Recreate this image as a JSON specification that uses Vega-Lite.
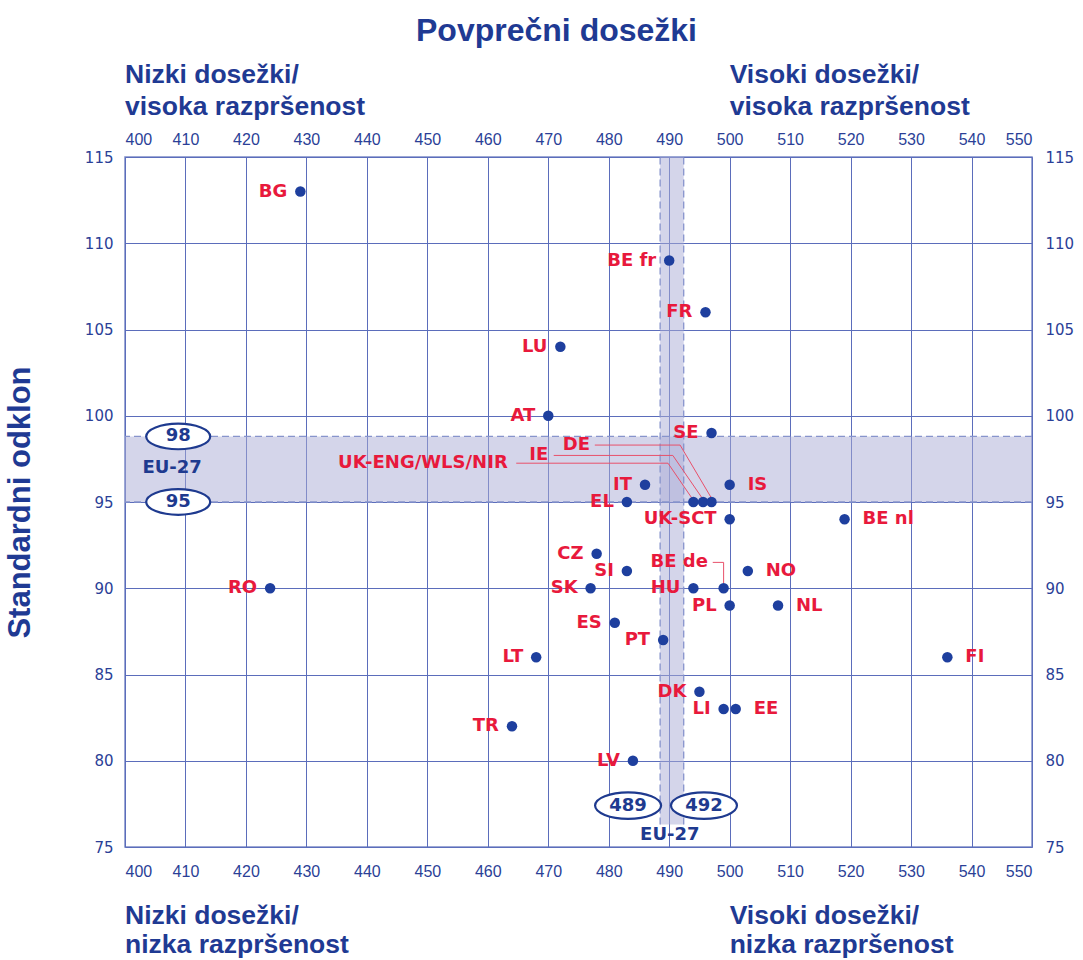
{
  "$schema": "https://vega.github.io/schema/vega-lite/v6.json",
  "width": 907,
  "height": 690,
  "autosize": "none",
  "padding": {"left": 125, "top": 157, "right": 51, "bottom": 113},
  "background": "white",
  "config": {
    "view": {"stroke": "#7d8cc8", "strokeWidth": 1.5},
    "axis": {"ticks": false, "domain": false, "gridColor": "#5b6dbb", "gridWidth": 1, "gridOpacity": 1, "labelColor": "#2b3f97"},
    "axisX": {"labelFont": "Liberation Sans", "labelFontSize": 16},
    "axisY": {"labelFont": "DejaVu Sans", "labelFontSize": 15}
  },
  "title": {
    "text": "Povprečni dosežki",
    "font": "Liberation Sans",
    "fontSize": 32,
    "fontWeight": "bold",
    "color": "#1f3a93",
    "frame": "group",
    "anchor": "middle",
    "dx": -22,
    "offset": 14
  },
  "datasets": {
    "countries": [
      {"c": "BG", "x": 429, "y": 113, "side": "L"},
      {"c": "BE fr", "x": 490, "y": 109, "side": "L"},
      {"c": "FR", "x": 496, "y": 106, "side": "L"},
      {"c": "LU", "x": 472, "y": 104, "side": "L"},
      {"c": "AT", "x": 470, "y": 100, "side": "L"},
      {"c": "SE", "x": 497, "y": 99, "side": "L"},
      {"c": "IS", "x": 500, "y": 96, "side": "R"},
      {"c": "IT", "x": 486, "y": 96, "side": "L"},
      {"c": "EL", "x": 483, "y": 95, "side": "L"},
      {"c": "UK-ENG/WLS/NIR", "x": 494, "y": 95, "side": "C"},
      {"c": "IE", "x": 495.6, "y": 95, "side": "C"},
      {"c": "DE", "x": 497, "y": 95, "side": "C"},
      {"c": "UK-SCT", "x": 500, "y": 94, "side": "L"},
      {"c": "BE nl", "x": 519, "y": 94, "side": "R"},
      {"c": "CZ", "x": 478, "y": 92, "side": "L"},
      {"c": "SI", "x": 483, "y": 91, "side": "L"},
      {"c": "NO", "x": 503, "y": 91, "side": "R"},
      {"c": "RO", "x": 424, "y": 90, "side": "L"},
      {"c": "SK", "x": 477, "y": 90, "side": "L"},
      {"c": "HU", "x": 494, "y": 90, "side": "L"},
      {"c": "BE de", "x": 499, "y": 90, "side": "C"},
      {"c": "PL", "x": 500, "y": 89, "side": "L"},
      {"c": "NL", "x": 508, "y": 89, "side": "R"},
      {"c": "ES", "x": 481, "y": 88, "side": "L"},
      {"c": "PT", "x": 489, "y": 87, "side": "L"},
      {"c": "LT", "x": 468, "y": 86, "side": "L"},
      {"c": "FI", "x": 536, "y": 86, "side": "R"},
      {"c": "DK", "x": 495, "y": 84, "side": "L"},
      {"c": "LI", "x": 499, "y": 83, "side": "L"},
      {"c": "EE", "x": 501, "y": 83, "side": "R"},
      {"c": "TR", "x": 464, "y": 82, "side": "L"},
      {"c": "LV", "x": 484, "y": 80, "side": "L"}
    ],
    "callouts": [
      {"c": "DE", "x": 476.9, "y": 98.3},
      {"c": "IE", "x": 470.0, "y": 97.7},
      {"c": "UK-ENG/WLS/NIR", "x": 463.3, "y": 97.25},
      {"c": "BE de", "x": 496.4, "y": 91.5}
    ],
    "leaders": [
      {"g": "DE", "o": 1, "x": 477.7, "y": 98.3},
      {"g": "DE", "o": 2, "x": 491.8, "y": 98.3},
      {"g": "DE", "o": 3, "x": 497.2, "y": 95.1},
      {"g": "IE", "o": 1, "x": 470.9, "y": 97.7},
      {"g": "IE", "o": 2, "x": 490.6, "y": 97.7},
      {"g": "IE", "o": 3, "x": 495.7, "y": 95.1},
      {"g": "UK", "o": 1, "x": 464.7, "y": 97.25},
      {"g": "UK", "o": 2, "x": 489.8, "y": 97.25},
      {"g": "UK", "o": 3, "x": 494.0, "y": 95.1},
      {"g": "BEde", "o": 1, "x": 497.2, "y": 91.5},
      {"g": "BEde", "o": 2, "x": 499.0, "y": 91.5},
      {"g": "BEde", "o": 3, "x": 499.0, "y": 90.3}
    ],
    "ellipses": [
      {"t": "98", "x": 408.8, "y": 98.8, "w": 64},
      {"t": "95", "x": 408.8, "y": 95, "w": 64},
      {"t": "489", "x": 483.2, "y": 77.4, "w": 66},
      {"t": "492", "x": 495.75, "y": 77.4, "w": 66}
    ],
    "eu": [
      {"t": "EU-27", "x": 407.8, "y": 96.97},
      {"t": "EU-27", "x": 490.1, "y": 75.7}
    ],
    "corners": [
      {"t": "Nizki dosežki/", "x": 400, "y": 119.75},
      {"t": "visoka razpršenost", "x": 400, "y": 117.9},
      {"t": "Visoki dosežki/", "x": 500, "y": 119.75},
      {"t": "visoka razpršenost", "x": 500, "y": 117.9},
      {"t": "Nizki dosežki/", "x": 400, "y": 71.0},
      {"t": "nizka razpršenost", "x": 400, "y": 69.3},
      {"t": "Visoki dosežki/", "x": 500, "y": 71.0},
      {"t": "nizka razpršenost", "x": 500, "y": 69.3}
    ],
    "hband": [{"lo": 95, "hi": 98.8}],
    "vband": [{"lo": 488.5, "hi": 492.4, "ylo": 76.3, "yhi": 115}]
  },
  "resolve": {"axis": {"x": "independent", "y": "independent"}},
  "layer": [
    {
      "data": {"name": "hband"},
      "mark": {"type": "rect", "fill": "#a9abd6", "opacity": 0.5},
      "encoding": {
        "y": {"field": "lo", "type": "quantitative", "scale": {"domain": [75, 115], "nice": false, "zero": false}, "axis": null},
        "y2": {"field": "hi"}
      }
    },
    {
      "data": {"name": "vband"},
      "mark": {"type": "rect", "fill": "#a9abd6", "opacity": 0.5},
      "encoding": {
        "x": {"field": "lo", "type": "quantitative", "scale": {"domain": [400, 550], "nice": false, "zero": false}, "axis": null},
        "x2": {"field": "hi"},
        "y": {"field": "ylo", "type": "quantitative", "axis": null},
        "y2": {"field": "yhi"}
      }
    },
    {
      "data": {"name": "hband"},
      "mark": {"type": "rule", "stroke": "#8794cc", "strokeDash": [7, 4], "strokeWidth": 1.3},
      "encoding": {"y": {"field": "lo", "type": "quantitative", "axis": null}}
    },
    {
      "data": {"name": "hband"},
      "mark": {"type": "rule", "stroke": "#8794cc", "strokeDash": [7, 4], "strokeWidth": 1.3},
      "encoding": {"y": {"field": "hi", "type": "quantitative", "axis": null}}
    },
    {
      "data": {"name": "vband"},
      "mark": {"type": "rule", "stroke": "#8794cc", "strokeDash": [7, 4], "strokeWidth": 1.3},
      "encoding": {
        "x": {"field": "lo", "type": "quantitative", "axis": null},
        "y": {"field": "ylo", "type": "quantitative", "axis": null},
        "y2": {"field": "yhi"}
      }
    },
    {
      "data": {"name": "vband"},
      "mark": {"type": "rule", "stroke": "#8794cc", "strokeDash": [7, 4], "strokeWidth": 1.3},
      "encoding": {
        "x": {"field": "hi", "type": "quantitative", "axis": null},
        "y": {"field": "ylo", "type": "quantitative", "axis": null},
        "y2": {"field": "yhi"}
      }
    },
    {
      "data": {"name": "leaders"},
      "mark": {"type": "line", "stroke": "#e8506a", "strokeWidth": 1},
      "encoding": {
        "x": {"field": "x", "type": "quantitative", "axis": null},
        "y": {"field": "y", "type": "quantitative", "axis": null},
        "detail": {"field": "g"},
        "order": {"field": "o"}
      }
    },
    {
      "data": {"name": "countries"},
      "mark": {"type": "point", "filled": true, "fill": "#1e3f9e", "opacity": 1, "size": 110, "shape": "circle", "strokeWidth": 0},
      "encoding": {
        "x": {"field": "x", "type": "quantitative", "axis": {"orient": "bottom", "values": [400, 410, 420, 430, 440, 450, 460, 470, 480, 490, 500, 510, 520, 530, 540, 550], "title": null, "grid": true, "labelPadding": 16}},
        "y": {"field": "y", "type": "quantitative", "axis": {"orient": "left", "values": [75, 80, 85, 90, 95, 100, 105, 110, 115], "title": "Standardni odklon", "titleFont": "Liberation Sans", "titleFontSize": 31, "titleFontWeight": "bold", "titleColor": "#1f3a93", "titlePadding": 48, "grid": true, "labelPadding": 12}}
      }
    },
    {
      "data": {"name": "countries"},
      "transform": [{"filter": "datum.side === 'L'"}],
      "mark": {"type": "text", "align": "right", "baseline": "middle", "dx": -13, "font": "DejaVu Sans", "fontWeight": "bold", "fontSize": 18, "fill": "#e8193c"},
      "encoding": {
        "x": {"field": "x", "type": "quantitative", "axis": {"orient": "top", "values": [400, 410, 420, 430, 440, 450, 460, 470, 480, 490, 500, 510, 520, 530, 540, 550], "title": null, "grid": false, "labelPadding": 10}},
        "y": {"field": "y", "type": "quantitative", "axis": {"orient": "right", "values": [75, 80, 85, 90, 95, 100, 105, 110, 115], "title": null, "grid": false, "labelPadding": 13}},
        "text": {"field": "c"}
      }
    },
    {
      "data": {"name": "countries"},
      "transform": [{"filter": "datum.side === 'R'"}],
      "mark": {"type": "text", "align": "left", "baseline": "middle", "dx": 18, "font": "DejaVu Sans", "fontWeight": "bold", "fontSize": 18, "fill": "#e8193c"},
      "encoding": {
        "x": {"field": "x", "type": "quantitative", "axis": null},
        "y": {"field": "y", "type": "quantitative", "axis": null},
        "text": {"field": "c"}
      }
    },
    {
      "data": {"name": "callouts"},
      "mark": {"type": "text", "align": "right", "baseline": "middle", "font": "DejaVu Sans", "fontWeight": "bold", "fontSize": 18, "fill": "#e8193c"},
      "encoding": {
        "x": {"field": "x", "type": "quantitative", "axis": null},
        "y": {"field": "y", "type": "quantitative", "axis": null},
        "text": {"field": "c"}
      }
    },
    {
      "data": {"name": "ellipses"},
      "mark": {"type": "point", "shape": "M-1,0A1,0.4,0,1,1,1,0A1,0.4,0,1,1,-1,0Z", "filled": false, "fill": "white", "fillOpacity": 1, "stroke": "#1e3a8f", "strokeWidth": 2.2, "opacity": 1},
      "encoding": {
        "x": {"field": "x", "type": "quantitative", "axis": null},
        "y": {"field": "y", "type": "quantitative", "axis": null},
        "size": {"field": "w", "type": "quantitative", "scale": {"type": "pow", "exponent": 2, "domain": [0, 100], "range": [0, 10000]}, "legend": null}
      }
    },
    {
      "data": {"name": "ellipses"},
      "mark": {"type": "text", "align": "center", "baseline": "middle", "font": "DejaVu Sans", "fontWeight": "bold", "fontSize": 18, "fill": "#1e3a8f"},
      "encoding": {
        "x": {"field": "x", "type": "quantitative", "axis": null},
        "y": {"field": "y", "type": "quantitative", "axis": null},
        "text": {"field": "t"}
      }
    },
    {
      "data": {"name": "eu"},
      "mark": {"type": "text", "align": "center", "baseline": "middle", "font": "DejaVu Sans", "fontWeight": "bold", "fontSize": 18, "fill": "#1e3a8f"},
      "encoding": {
        "x": {"field": "x", "type": "quantitative", "axis": null},
        "y": {"field": "y", "type": "quantitative", "axis": null},
        "text": {"field": "t"}
      }
    },
    {
      "data": {"name": "corners"},
      "mark": {"type": "text", "align": "left", "baseline": "middle", "font": "Liberation Sans", "fontWeight": "bold", "fontSize": 26.5, "fill": "#1f3a93"},
      "encoding": {
        "x": {"field": "x", "type": "quantitative", "axis": null},
        "y": {"field": "y", "type": "quantitative", "axis": null},
        "text": {"field": "t"}
      }
    }
  ]
}
